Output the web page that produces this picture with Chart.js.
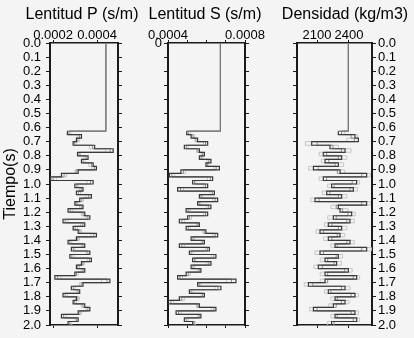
<!DOCTYPE html>
<html><head><meta charset="utf-8">
<script src="https://cdn.jsdelivr.net/npm/chart.js@4.4.1/dist/chart.umd.min.js"></script>
<style>
html,body{margin:0;padding:0;background:#f4f4f4;}
#wrap{position:relative;width:414px;height:338px;overflow:hidden;background:#f4f4f4;}
canvas{position:absolute;top:0;}
</style></head><body>
<div id="wrap">
<canvas id="cP" width="164" height="338" style="left:0px"></canvas>
<canvas id="cS" width="130" height="338" style="left:140px"></canvas>
<canvas id="cD" width="130" height="338" style="left:280px"></canvas>
</div>
<script>
// Layer tops (s); last layer ends at 2.0 s
const layerTops = [0, 0.625, 0.65, 0.675, 0.7, 0.725, 0.75, 0.775, 0.8, 0.825, 0.85, 0.875, 0.9, 0.925, 0.95, 0.975, 1.0, 1.025, 1.05, 1.075, 1.1, 1.125, 1.15, 1.175, 1.2, 1.225, 1.25, 1.275, 1.3, 1.325, 1.35, 1.375, 1.4, 1.425, 1.45, 1.475, 1.5, 1.525, 1.55, 1.575, 1.6, 1.625, 1.65, 1.675, 1.7, 1.725, 1.75, 1.775, 1.8, 1.825, 1.85, 1.875, 1.9, 1.925, 1.95, 1.975];
const timeEnd = 2.0;

// P slowness (x1e-4 s/m)
const pMain = [4.40, 2.65,3.29,3.06,2.91,3.89,4.73,3.11,3.59,3.29,3.82, 3.97,3.14,2.38,1.89,3.82,2.99,3.36,3.06,3.74,3.21, 2.99,3.36,2.68,3.44,3.67,2.45,3.44,2.91,3.14,3.97, 3.06,2.68,3.44,2.83,3.67,2.76,3.74,3.29,3.06,3.44, 2.99,2.08,4.58,3.36,2.83,3.21,2.45,3.06,2.91,3.44, 3.67,3.14,2.38,3.14,2.68];
const pAltA = [4.40, 2.72,3.20,3.12,2.98,3.80,4.60,3.18,3.50,3.36,3.75, 3.88,3.05,2.50,2.00,3.70,3.08,3.28,3.15,3.62,3.30, 3.05,3.28,2.78,3.36,3.58,2.55,3.35,3.00,3.22,3.85, 3.12,2.76,3.36,2.92,3.58,2.85,3.65,3.36,3.12,3.36, 3.06,2.20,4.45,3.28,2.92,3.14,2.55,3.12,2.98,3.36, 3.58,3.22,2.48,3.06,2.76];
const pAltB = [4.40, 2.80,3.10,3.20,3.05,3.65,4.40,3.25,3.40,3.45,3.62, 3.75,3.00,2.62,2.15,3.55,3.15,3.20,3.25,3.50,3.38, 3.12,3.20,2.88,3.28,3.50,2.68,3.25,3.10,3.30,3.72, 3.20,2.85,3.28,3.00,3.50,2.95,3.55,3.42,3.20,3.28, 3.14,2.35,4.20,3.20,3.00,3.08,2.65,3.20,3.06,3.28, 3.50,3.30,2.60,3.00,2.85];

// S slowness (x1e-4 s/m)
const sMain = [6.72, 4.97,5.20,5.54,6.06,4.85,5.63,5.89,5.63,6.23,5.97, 6.67,4.67,4.07,6.32,5.28,6.06,4.50,6.41,5.63,6.58, 5.54,6.23,4.94,6.06,5.02,4.59,5.63,4.94,5.97,6.58, 5.20,5.89,4.59,6.15,5.11,6.49,5.28,6.23,5.20,5.71, 4.94,4.50,7.53,5.54,6.75,5.11,5.89,4.59,3.98,5.63, 6.49,4.42,5.71,4.85,5.28];
const sAltA = [6.72, 5.05,5.30,5.45,5.95,4.95,5.55,5.80,5.72,6.12,6.05, 6.50,4.80,4.20,6.20,5.38,5.95,4.65,6.30,5.72,6.45, 5.62,6.12,5.05,5.95,5.12,4.72,5.55,5.05,5.88,6.45, 5.30,5.80,4.72,6.05,5.20,6.38,5.38,6.12,5.30,5.62, 5.05,4.62,7.30,5.62,6.60,5.20,5.80,4.72,4.15,5.55, 6.38,4.55,5.62,4.95,5.36];
const sAltB = [6.72, 5.15,5.38,5.40,5.85,5.05,5.48,5.72,5.80,6.02,6.12, 6.38,4.92,4.35,6.05,5.45,5.85,4.80,6.18,5.80,6.32, 5.70,6.02,5.15,5.85,5.22,4.85,5.48,5.15,5.80,6.32, 5.38,5.72,4.85,5.95,5.30,6.25,5.45,6.02,5.38,5.55, 5.15,4.75,7.05,5.70,6.45,5.30,5.72,4.85,4.30,5.48, 6.25,4.68,5.55,5.05,5.42];

// Density (kg/m3)
const dMain = [2394, 2300,2456,2488,2050,2222,2363,2159,2331,2175,2300, 2066,2316,2566,2159,2472,2237,2441,2191,2331,2081, 2566,2300,2316,2425,2253,2409,2206,2331,2128,2316, 2206,2409,2269,2566,2128,2300,2175,2284,2112,2394, 2175,2472,2175,2019,2363,2206,2456,2269,2363,2253, 2066,2456,2269,2472,2237];
const dAltA = [2394, 2330,2420,2450,2100,2250,2330,2190,2300,2210,2270, 2110,2290,2520,2190,2430,2260,2410,2220,2300,2120, 2520,2280,2340,2390,2280,2380,2240,2300,2160,2290, 2240,2380,2290,2520,2160,2280,2200,2260,2150,2360, 2200,2440,2200,2060,2330,2230,2420,2290,2330,2280, 2100,2420,2290,2440,2260];
const dAltB = [2394, 2360,2480,2380,1990,2300,2420,2120,2380,2140,2350, 2020,2360,2600,2120,2500,2200,2480,2150,2380,2040, 2600,2230,2390,2460,2200,2450,2170,2380,2090,2360, 2160,2450,2230,2610,2080,2340,2130,2330,2070,2430, 2130,2500,2130,1980,2410,2170,2490,2230,2400,2210, 2030,2490,2230,2500,2200];

// Tick values / labels
const timeTicks = [0,0.1,0.2,0.3,0.4,0.5,0.6,0.7,0.8,0.9,1.0,1.1,1.2,1.3,1.4,1.5,1.6,1.7,1.8,1.9,2.0];
const timeLabels = ['0.0','0.1','0.2','0.3','0.4','0.5','0.6','0.7','0.8','0.9','1.0','1.1','1.2','1.3','1.4','1.5','1.6','1.7','1.8','1.9','2.0'];
const pTicks = [0.0002, 0.0004], pLabels = ['0.0002','0.0004'];
const sTicks = [0.0004, 0.0005, 0.0006, 0.0007, 0.0008], sLabels = ['0.0004','','','','0.0008'];
const dTicks = [2100, 2400], dLabels = ['2100','2400'];

const FONT = "'Liberation Sans', Arial, Helvetica, sans-serif";
const INK = '#000';
const AX = '#1a1a1a';

function stepPoints(values, unit) {
  const n = Math.min(values.length, layerTops.length);
  const pts = [];
  for (let i = 0; i < n; i++) pts.push({x: values[i] * unit, y: layerTops[i]});
  pts.push({x: values[n - 1] * unit, y: timeEnd});
  return pts;
}

function panel(id, c) {
  const setTicks = vals => s => { s.ticks = vals.map(v => ({value: v})); };
  const fit = size => s => { if (s.isHorizontal()) s.height = size; else s.width = size; };
  const tickFont = {family: FONT, size: 13};
  const series = [
    {v: c.main, color: '#3a3a3a', w: 1.2, main: true},
    {v: c.altA, color: '#8e8e8e', w: 1},
    {v: c.altB, color: '#c6c6c6', w: 1}
  ];
  const xBase = {
    type: 'linear', min: c.xmin, max: c.xmax,
    afterBuildTicks: setTicks(c.xTicks),
    grid: {display: true, drawOnChartArea: false, drawTicks: true, tickLength: 3, color: AX, lineWidth: 1},
    border: {display: true, color: AX, width: 1.5}
  };
  const yBase = {
    type: 'linear', min: 0, max: 2, reverse: true,
    afterBuildTicks: setTicks(timeTicks),
    grid: {display: true, drawOnChartArea: false, drawTicks: true, tickLength: 4, color: AX, lineWidth: 1},
    border: {display: true, color: AX, width: 2}
  };
  return new Chart(document.getElementById(id), {
    type: 'scatter',
    data: {datasets: series.map(s => ({
      data: stepPoints(s.v, c.unit),
      showLine: true, stepped: 'after', fill: false,
      borderColor: s.color, borderWidth: s.w, pointRadius: 0,
      segment: s.main ? {borderColor: ctx => ctx.p0DataIndex === 0 ? '#777' : undefined} : undefined
    }))},
    options: {
      responsive: false, animation: false, events: [],
      layout: {padding: 0},
      plugins: {
        legend: {display: false}, tooltip: {enabled: false},
        title: {display: true, text: c.title, color: INK,
          font: {family: FONT, size: 16, weight: 'normal'}, padding: {top: 5, bottom: 0}}
      },
      scales: {
        x: Object.assign({}, xBase, {position: 'top', afterFit: fit(18.8),
          ticks: {display: true, callback: (v, i) => c.xLabels[i], font: tickFont, color: INK, padding: -3, maxRotation: 0, minRotation: 0, autoSkip: false}}),
        x2: Object.assign({}, xBase, {position: 'bottom', afterFit: fit(13), ticks: {display: false}}),
        y: Object.assign({}, yBase, {position: 'left', afterFit: fit(c.leftW),
          title: c.yTitle ? {display: true, text: c.yTitle, color: INK, font: {family: FONT, size: 16}, padding: {top: 1, bottom: 0}} : {display: false},
          ticks: {display: c.leftLabels !== null, callback: (v, i) => c.leftLabels ? c.leftLabels[i] : '', font: tickFont, color: INK, padding: c.leftPad, autoSkip: false}}),
        y2: Object.assign({}, yBase, {position: 'right', afterFit: fit(c.rightW),
          ticks: {display: c.rightLabels !== null, callback: (v, i) => c.rightLabels ? c.rightLabels[i] : '', font: tickFont, color: INK, padding: 2, autoSkip: false}})
      }
    }
  });
}

const sLeftLabels = timeLabels.map((t, i) => i === 0 ? '0' : '');

panel('cP', {title: 'Lentitud P (s/m)', main: pMain, altA: pAltA, altB: pAltB, unit: 1e-4,
  xmin: 0.000186, xmax: 0.000495, xTicks: pTicks, xLabels: pLabels,
  leftW: 50, rightW: 46, leftLabels: timeLabels, leftPad: 5, rightLabels: null, yTitle: 'Tiempo(s)'});
panel('cS', {title: 'Lentitud S (s/m)', main: sMain, altA: sAltA, altB: sAltB, unit: 1e-4,
  xmin: 0.0004, xmax: 0.0008, xTicks: sTicks, xLabels: sLabels,
  leftW: 28, rightW: 25, leftLabels: sLeftLabels, leftPad: 2, rightLabels: null});
panel('cD', {title: 'Densidad (kg/m3)', main: dMain, altA: dAltA, altB: dAltB, unit: 1,
  xmin: 1912, xmax: 2616, xTicks: dTicks, xLabels: dLabels,
  leftW: 17, rightW: 38, leftLabels: null, leftPad: 2, rightLabels: timeLabels});
</script>
</body></html>
